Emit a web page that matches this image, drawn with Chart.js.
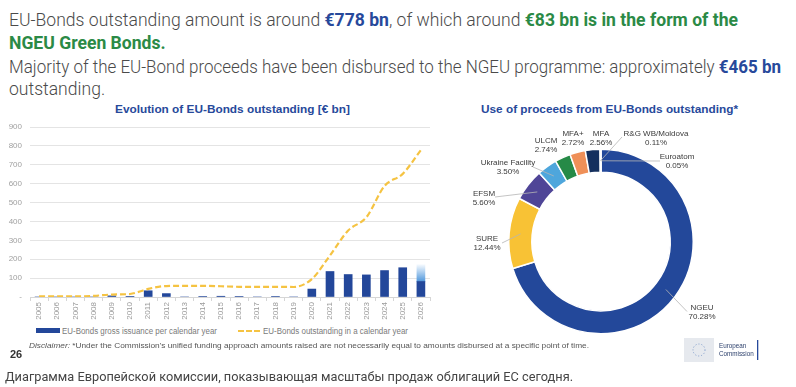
<!DOCTYPE html>
<html>
<head>
<meta charset="utf-8">
<script src="https://cdn.jsdelivr.net/npm/chart.js@4.4.1/dist/chart.umd.min.js"></script>
<style>
  html, body { margin: 0; padding: 0; background: #fff; }
  body { width: 796px; height: 387px; position: relative; overflow: hidden; font-family: Roboto, "Liberation Sans", Arial, sans-serif; color: #444; }
  .abs { position: absolute; white-space: nowrap; }
  .fit { transform-origin: 0 50%; display: inline-block; }
  .hdr { font-size: 18px; line-height: 22px; left: 9px; color: #4a4a4a; font-weight: 300; }
  .blue { color: #27499b; font-weight: bold; }
  .green { color: #2b8a46; font-weight: bold; }
  .ctitle { font-family: "Liberation Sans", Arial, sans-serif; font-weight: bold; font-size: 11.5px; color: #27499b; line-height: 14px; }
  .legend { font-family: "Liberation Sans", Arial, sans-serif; font-size: 8.5px; color: #7a7a7a; line-height: 10px; }
  #barWrap { position: absolute; left: 0; top: 112px; width: 432px; height: 213px; }
  #donutWrap { position: absolute; left: 436px; top: 122px; width: 330px; height: 220px; }
</style>
</head>
<body>
<div class="abs hdr" style="top:9px"><span class="fit" id="h1">EU-Bonds outstanding amount is around <span class="blue">€778 bn</span>, of which around <span class="green">€83 bn is in the form of the</span></span></div>
<div class="abs hdr" style="top:32px"><span class="fit" id="h2"><span class="green">NGEU Green Bonds.</span></span></div>
<div class="abs hdr" style="top:56px"><span class="fit" id="h3">Majority of the EU-Bond proceeds have been disbursed to the NGEU programme: approximately <span class="blue">€465 bn</span></span></div>
<div class="abs hdr" style="top:78px"><span class="fit" id="h4">outstanding.</span></div>

<div class="abs ctitle" style="top:102px; left:115px"><span class="fit" id="t1">Evolution of EU-Bonds outstanding [€ bn]</span></div>
<div class="abs ctitle" style="top:102px; left:481px"><span class="fit" id="t2">Use of proceeds from EU-Bonds outstanding*</span></div>

<div id="barWrap"><canvas id="bondChart"></canvas></div>
<div id="donutWrap"><canvas id="useChart"></canvas></div>

<!-- legend of the bar chart -->
<div class="abs" style="left:36px; top:328px; width:24px; height:5px; background:#23479a"></div>
<div class="abs legend" style="left:62px; top:326px"><span class="fit" id="lg1">EU-Bonds gross issuance per calendar year</span></div>
<div class="abs" style="left:238px; top:330px; width:22px; height:0; border-top:2px dashed #f5c342"></div>
<div class="abs legend" style="left:263px; top:326px"><span class="fit" id="lg2">EU-Bonds outstanding in a calendar year</span></div>

<div class="abs" style="left:29px; top:341px; font-size:8px; color:#555; line-height:10px; font-family:'Liberation Sans',Arial,sans-serif"><span class="fit" id="disc"><i>Disclaimer:</i> *Under the Commission's unified funding approach amounts raised are not necessarily equal to amounts disbursed at a specific point of time.</span></div>
<div class="abs" style="left:10px; top:348px; font-size:11px; font-weight:bold; color:#333; font-family:'Liberation Sans',Arial,sans-serif">26</div>

<!-- EC logo -->
<svg class="abs" style="left:683px; top:336px" width="80" height="28" viewBox="0 0 80 28">
  <rect x="1" y="2" width="30" height="24" fill="#e6e9ee"/>
  <circle cx="16" cy="14" r="6" fill="none" stroke="#7f9ccc" stroke-width="1" stroke-dasharray="1 2"/>
  <text x="36" y="12" font-size="6.3" fill="#2b3f6b" font-family="Liberation Sans">European</text>
  <text x="36" y="20" font-size="6.3" fill="#2b3f6b" font-family="Liberation Sans">Commission</text>
  <rect x="74" y="4" width="1.3" height="20" fill="#27499b"/>
</svg>

<div class="abs" style="left:5px; top:369px; font-size:13px; color:#444; line-height:16px; font-family:Roboto, 'Liberation Sans', sans-serif"><span class="fit" id="cap">Диаграмма Европейской комиссии, показывающая масштабы продаж облигаций ЕС сегодня.</span></div>

<script>
// ---- Data: EU-Bonds per calendar year [€ bn] ----
const years = ['2005','2006','2007','2008','2009','2010','2011','2012','2013','2014','2015',
               '2016','2017','2018','2019','2020','2021','2022','2023','2024','2025','2026'];
const grossIssuance = [0, 0, 0, 0, 6, 2, 33, 18, 0, 3, 4, 3, 0, 3, 0, 42, 135, 119, 117, 140, 155, 82];
const plannedIssuance = [null, null, null, null, null, null, null, null, null, null, null,
                         null, null, null, null, null, null, null, null, null, null, 89];
const outstanding = [3, 3, 3, 6, 13, 16, 43, 58, 59, 59, 57, 54, 54, 54, 53, 95, 220, 352, 422, 588, 652, 778];
const yTicks = [0, 100, 200, 300, 400, 500, 600, 700, 800, 900];

// ---- Data: use of proceeds [% of outstanding] ----
const proceedsLabels = ['NGEU', 'SURE', 'EFSM', 'Ukraine Facility', 'ULCM', 'MFA+', 'MFA', 'R&G WB/Moldova', 'Euroatom'];
const proceedsShares = [70.28, 12.44, 5.60, 3.50, 2.74, 2.72, 2.56, 0.11, 0.05];
const proceedsColors = ['#23489a', '#f8c235', '#4f4597', '#4ea6dc', '#268a47', '#ef9058', '#15305e', '#7aa7d8', '#9aa3ad'];

// label placement around the ring (offsets from the centre, px)
const labelSpots = [
  { tx: 101, ty: 66,   lx: 86,  ly: 70 },
  { tx: -114, ty: -3,  lx: -99, ly: 1.5 },
  { tx: -117, ty: -48, lx: -106, ly: -44.5 },
  { tx: -93, ty: -79,  lx: -68, ly: -74.5 },
  { tx: -55, ty: -101 },
  { tx: -28, ty: -108 },
  { tx: 0,   ty: -108 },
  { tx: 55,  ty: -108, lx: 21, ly: -104.5 },
  { tx: 76,  ty: -85,  lx: 59, ly: -80.5 }
];

// ---- Fit text lines to the widths of the original ----
function fit(id, w) {
  const el = document.getElementById(id);
  const nat = el.getBoundingClientRect().width;
  el.style.transform = 'scaleX(' + (w / nat) + ')';
  return w / nat;
}
const s = fit('h1', 729);
['h2', 'h4'].forEach(id => document.getElementById(id).style.transform = 'scaleX(' + s + ')');
fit('h3', 772);
fit('t1', 235);
fit('t2', 257);
fit('lg1', 155);
fit('lg2', 145);
fit('disc', 560);
fit('cap', 568);

Chart.defaults.font.family = '"Liberation Sans", Arial, sans-serif';
Chart.defaults.animation = false;

// ---- Bar + line chart ----
new Chart(document.getElementById('bondChart'), {
  type: 'bar',
  data: {
    labels: years,
    datasets: [
      {
        label: 'EU-Bonds outstanding in a calendar year',
        type: 'line', data: outstanding, stack: 'line',
        borderColor: '#f5c342', borderWidth: 2.2, borderDash: [6, 3],
        pointRadius: 0, cubicInterpolationMode: 'monotone', order: 0
      },
      {
        label: 'EU-Bonds gross issuance per calendar year',
        data: grossIssuance, stack: 'bars', backgroundColor: '#23479a',
        barThickness: 8, order: 1
      },
      {
        label: 'planned',
        data: plannedIssuance, stack: 'bars', barThickness: 8, order: 1,
        backgroundColor: ctx => {
          const c = ctx.chart;
          if (!c.chartArea) return '#9cc7ee';
          const i = ctx.dataIndex;
          const y = c.scales.y;
          const top = y.getPixelForValue(grossIssuance[i] + (plannedIssuance[i] || 0));
          const bot = y.getPixelForValue(grossIssuance[i]);
          if (!isFinite(top) || bot - top < 1) return '#9cc7ee';
          const g = c.ctx.createLinearGradient(0, top, 0, bot);
          g.addColorStop(0, '#f4f9fe');
          g.addColorStop(1, '#5198dc');
          return g;
        }
      }
    ]
  },
  options: {
    responsive: true, maintainAspectRatio: false,
    layout: { padding: { top: 15, right: 2, left: 0, bottom: 0 } },
    plugins: { legend: { display: false }, tooltip: { enabled: false } },
    scales: {
      x: {
        stacked: true,
        grid: { display: true, drawOnChartArea: false, offset: true, tickLength: 4, color: '#d6d6d6' },
        border: { color: '#d6d6d6' },
        ticks: { minRotation: 90, maxRotation: 90, padding: 1, color: '#9a9a9a', font: { size: 8 }, autoSkip: false },
        afterFit: sc => { sc.height = 28; }
      },
      y: {
        stacked: true, min: 0, max: 900,
        afterBuildTicks: sc => { sc.ticks = yTicks.map(v => ({ value: v })); },
        grid: { color: '#e4e4e4', drawTicks: false },
        border: { display: false },
        ticks: { padding: 8, color: '#a0a0a0', font: { size: 8 }, callback: v => v === 0 ? '-' : v },
        afterFit: sc => { sc.width = 30; }
      }
    }
  }
});

// ---- Donut labels with leader lines ----
const proceedsLabelPlugin = {
  id: 'proceedsLabels',
  afterDatasetsDraw(chart) {
    const ctx = chart.ctx;
    const arcs = chart.getDatasetMeta(0).data;
    ctx.save();
    ctx.font = '8px "Liberation Sans", sans-serif';
    ctx.textAlign = 'center';
    ctx.textBaseline = 'middle';
    arcs.forEach((arc, i) => {
      const p = arc.getProps(['x', 'y', 'startAngle', 'endAngle', 'innerRadius', 'outerRadius']);
      const L = labelSpots[i];
      if (L.lx !== undefined) {
        const mid = (p.startAngle + p.endAngle) / 2;
        const r = (p.innerRadius + p.outerRadius) / 2;
        ctx.strokeStyle = '#b5b5b5';
        ctx.lineWidth = 0.8;
        ctx.beginPath();
        ctx.moveTo(p.x + Math.cos(mid) * r, p.y + Math.sin(mid) * r);
        ctx.lineTo(p.x + L.lx, p.y + L.ly);
        ctx.stroke();
      }
      ctx.fillStyle = '#3a3a3a';
      ctx.fillText(proceedsLabels[i], p.x + L.tx, p.y + L.ty);
      ctx.fillText(proceedsShares[i].toFixed(2) + '%', p.x + L.tx, p.y + L.ty + 9.5);
    });
    ctx.restore();
  }
};

new Chart(document.getElementById('useChart'), {
  type: 'doughnut',
  data: {
    labels: proceedsLabels,
    datasets: [{
      data: proceedsShares, backgroundColor: proceedsColors,
      borderColor: '#fff', borderWidth: 1.5, hoverOffset: 0
    }]
  },
  options: {
    responsive: true, maintainAspectRatio: false, cutout: '75%',
    layout: { padding: { left: 72, right: 72, top: 26.5, bottom: 7.5 } },
    plugins: { legend: { display: false }, tooltip: { enabled: false } }
  },
  plugins: [proceedsLabelPlugin]
});
</script>
</body>
</html>
